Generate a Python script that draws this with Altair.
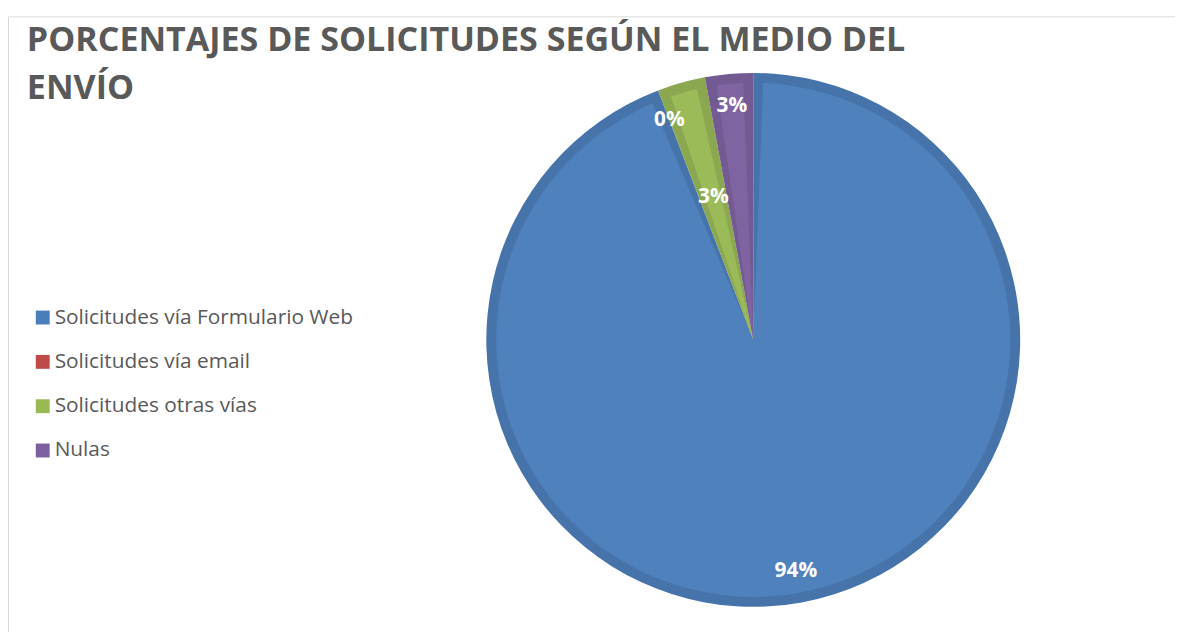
import altair as alt
import pandas as pd

categories = ["Solicitudes vía Formulario Web", "Solicitudes vía email", "Solicitudes otras vías", "Nulas"]
values = [94.2, 0.0, 2.9, 2.9]
order_idx = [0, 1, 2, 3]
light_colors = ["#4F81BD", "#C0504D", "#9BBB59", "#8064A2"]
dark_colors = ["#4674AA", "#AD4845", "#8BA850", "#735A92"]
legend_colors = ["#4A7EBB", "#BE4B48", "#98B954", "#7D60A0"]
title_line1 = "PORCENTAJES DE SOLICITUDES SEGÚN EL MEDIO DEL"
title_line2 = "ENVÍO"

df = pd.DataFrame({"cat": categories, "v": values, "idx": order_idx})

CX, CY, R, B = 751, 326, 269, 10
FONT = "Open Sans"

base = alt.Chart(df).encode(
    theta=alt.Theta("v:Q", stack=True),
    order=alt.Order("idx:Q"),
    x=alt.value(CX),
    y=alt.value(CY),
)

outer = base.mark_arc(outerRadius=R).encode(
    fill=alt.Fill("cat:N", scale=alt.Scale(domain=categories, range=dark_colors), legend=None)
)
inner = base.mark_arc(outerRadius=R - B, padAngle=2 * B / (R - B)).transform_calculate(
    cat_light="datum.cat"
).encode(
    color=alt.Color("cat_light:N", scale=alt.Scale(domain=categories, range=light_colors), legend=None)
)

lab_style = dict(font=FONT, fontSize=21, fontWeight="bold", color="white", align="center", baseline="middle")
labels_outer = base.mark_text(radius=237, **lab_style).transform_calculate(
    lab="datum.cat == 'Solicitudes otras vías' ? '' : format(datum.v / 100, '.0%')"
).encode(text="lab:N")
labels_inner = base.mark_text(radius=149, **lab_style).transform_calculate(
    lab="datum.cat == 'Solicitudes otras vías' ? format(datum.v / 100, '.0%') : ''"
).encode(text="lab:N")

title_style = dict(font=FONT, fontSize=34.3, fontWeight="bold", color="#595959", align="left", baseline="alphabetic")
t1 = alt.Chart(pd.DataFrame({"t": [title_line1]})).mark_text(**title_style).encode(
    text="t:N", x=alt.value(19), y=alt.value(35))
t2 = alt.Chart(pd.DataFrame({"t": [title_line2]})).mark_text(**title_style).encode(
    text="t:N", x=alt.value(19), y=alt.value(83))

# manual legend
ldf = pd.DataFrame({"cat": categories})
ly = alt.Y("cat:N", scale=alt.Scale(type="point", domain=categories, range=[303.5, 437.5], padding=0), axis=None)
leg_sym = alt.Chart(ldf).mark_square(size=196, opacity=1).encode(
    x=alt.value(35), y=ly,
    color=alt.Color("cat:N", scale=alt.Scale(domain=categories, range=legend_colors), legend=None),
)
leg_txt = alt.Chart(ldf).mark_text(font=FONT, fontSize=21, color="#595959", align="left", baseline="middle").encode(
    x=alt.value(47), y=ly, text="cat:N")

chart = alt.layer(outer, inner, labels_outer, labels_inner, t1, t2, leg_sym, leg_txt).resolve_scale(
    color="independent", fill="independent", y="independent"
).properties(
    width=1176, height=626, padding={"left": 0, "top": 6, "right": 0, "bottom": 0},
    autosize=alt.AutoSizeParams(type="none"),
).configure_view(stroke="#d9d9d9", strokeWidth=1)

chart.save("out.html", embed_options={"renderer": "svg", "actions": False})
